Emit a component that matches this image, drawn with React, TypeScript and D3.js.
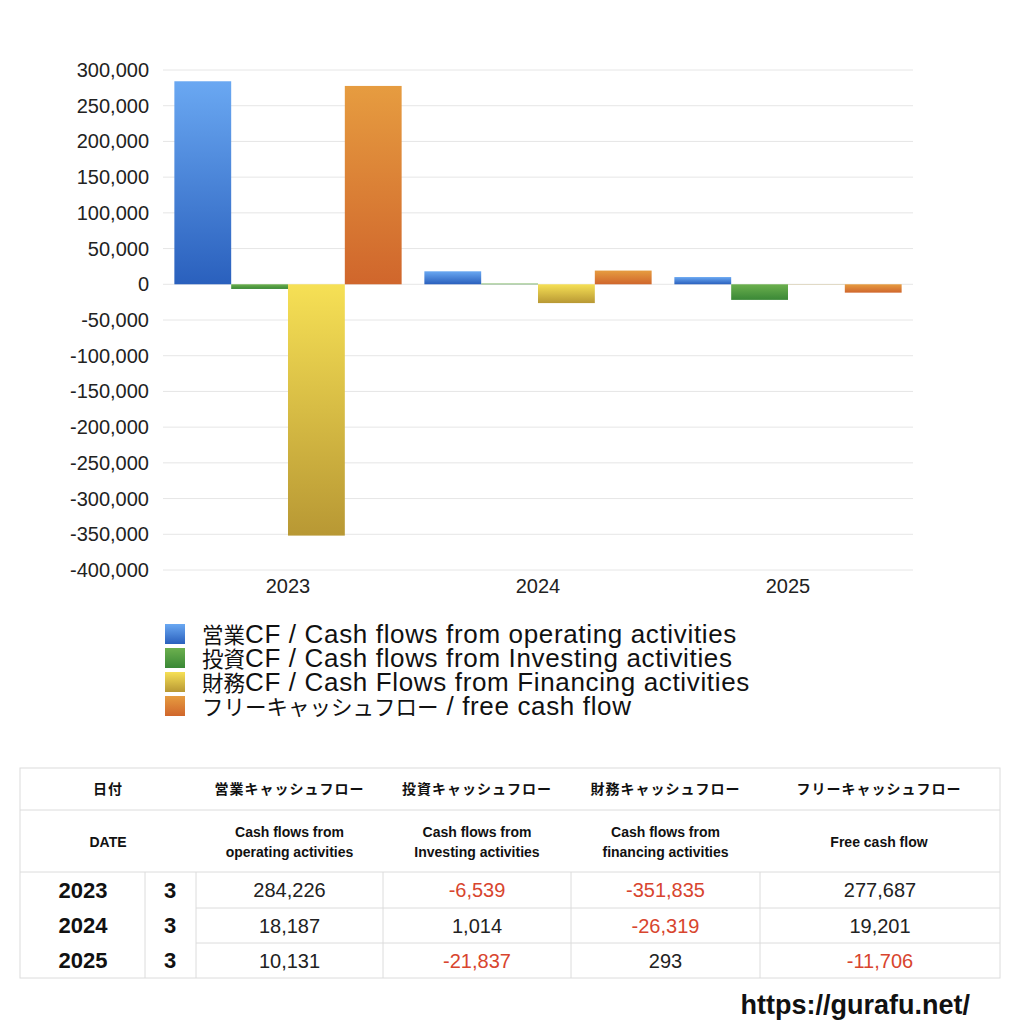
import React, { useEffect, useRef } from 'react';
import * as d3 from 'd3';

const years = ['2023', '2024', '2025'];
const months = ['3', '3', '3'];
const seriesKeys = ['operating', 'investing', 'financing', 'free'];
const operating = [284226, 18187, 10131];
const investing = [-6539, 1014, -21837];
const financing = [-351835, -26319, 293];
const freeCF = [277687, 19201, -11706];
const legendLabels = [
  '営業CF / Cash flows from operating activities',
  '投資CF / Cash flows from Investing activities',
  '財務CF / Cash Flows from Financing activities',
  'フリーキャッシュフロー / free cash flow',
];
const headerJa = ['日付', '営業キャッシュフロー', '投資キャッシュフロー', '財務キャッシュフロー', 'フリーキャッシュフロー'];
const headerEn = [['DATE'], ['Cash flows from', 'operating activities'], ['Cash flows from', 'Investing activities'], ['Cash flows from', 'financing activities'], ['Free cash flow']];
const yTicks = [300000, 250000, 200000, 150000, 100000, 50000, 0, -50000, -100000, -150000, -200000, -250000, -300000, -350000, -400000];

const gradients = [
  ['#6aa8f2', '#2a60bd'],
  ['#6cb04e', '#3a8836'],
  ['#f6e055', '#b89834'],
  ['#e69c40', '#d0662c'],
];

const App = () => {
  const ref = useRef<SVGSVGElement>(null);

  useEffect(() => {
    const svg = d3.select(ref.current);
    svg.selectAll('*').remove();

    const latin = '"Liberation Sans", Arial, "Noto Sans CJK JP", sans-serif';
    const jp = '"Noto Sans CJK JP", "Liberation Sans", sans-serif';

    const defs = svg.append('defs');
    gradients.forEach((g, i) => {
      const lg = defs.append('linearGradient').attr('id', `grad${i}`).attr('x1', 0).attr('y1', 0).attr('x2', 0).attr('y2', 1);
      lg.append('stop').attr('offset', '0%').attr('stop-color', g[0]);
      lg.append('stop').attr('offset', '100%').attr('stop-color', g[1]);
    });

    const x0 = d3.scaleBand().domain(years).range([163, 913]).paddingInner(0).paddingOuter(0);
    const x1 = d3.scaleBand().domain(seriesKeys).range([0, x0.bandwidth()]).paddingOuter(0.2).paddingInner(0);
    const y = d3.scaleLinear().domain([-400000, 300000]).range([570, 70]);

    // grid
    svg.append('g')
      .selectAll('line')
      .data(yTicks)
      .enter()
      .append('line')
      .attr('x1', 163)
      .attr('x2', 913)
      .attr('y1', (d) => y(d))
      .attr('y2', (d) => y(d))
      .attr('stroke', '#e6e6e6')
      .attr('stroke-width', 1);

    const fmt = (v: number) => d3.format(',')(v).replace('\u2212', '-');
    svg.append('g')
      .selectAll('text')
      .data(yTicks)
      .enter()
      .append('text')
      .attr('x', 149)
      .attr('y', (d) => y(d))
      .attr('dy', '0.35em')
      .attr('text-anchor', 'end')
      .attr('font-family', latin)
      .attr('font-size', 20)
      .attr('fill', '#222')
      .text((d) => fmt(d));

    svg.append('g')
      .selectAll('text')
      .data(years)
      .enter()
      .append('text')
      .attr('x', (d) => (x0(d) || 0) + x0.bandwidth() / 2)
      .attr('y', 593)
      .attr('text-anchor', 'middle')
      .attr('font-family', latin)
      .attr('font-size', 20)
      .attr('fill', '#222')
      .text((d) => d);

    const seriesData = [operating, investing, financing, freeCF];
    seriesData.forEach((vals, si) => {
      svg.append('g')
        .selectAll('rect')
        .data(vals)
        .enter()
        .append('rect')
        .attr('x', (d, i) => (x0(years[i]) || 0) + (x1(seriesKeys[si]) || 0))
        .attr('width', x1.bandwidth())
        .attr('y', (d) => y(Math.max(0, d)))
        .attr('height', (d) => Math.abs(y(d) - y(0)))
        .attr('fill', `url(#grad${si})`);
    });

    // legend: Japanese runs a bit smaller than the latin runs
    const legend = svg.append('g');
    const cjk = /([\u3000-\u30ff\u4e00-\u9fff\uff00-\uffef]+)/;
    legendLabels.forEach((label, i) => {
      const ly = 634 + i * 24;
      legend.append('rect')
        .attr('x', 165)
        .attr('y', ly - 10)
        .attr('width', 20)
        .attr('height', 20)
        .attr('fill', `url(#grad${i})`);
      const txt = legend.append('text')
        .attr('x', 202)
        .attr('y', ly + 9)
        .attr('font-family', latin)
        .attr('font-size', 26)
        .attr('fill', '#111');
      label.split(cjk).filter((s) => s.length > 0).forEach((part) => {
        const isJp = cjk.test(part);
        txt.append('tspan')
          .attr('font-family', isJp ? jp : latin)
          .attr('font-size', isJp ? 21.5 : 26)
          .attr('letter-spacing', isJp ? 0 : 0.65)
          .text(part);
      });
    });

    // table
    const t = svg.append('g');
    const colX = [20, 145, 196, 383, 571, 760, 1000];
    const rowY = [768, 810, 872, 908, 943, 978];
    const lineColor = '#dcdcdc';
    t.append('rect')
      .attr('x', 20).attr('y', 768).attr('width', 980).attr('height', 210)
      .attr('fill', 'none').attr('stroke', lineColor);
    [810, 872].forEach((yy) => {
      t.append('line').attr('x1', 20).attr('x2', 1000).attr('y1', yy).attr('y2', yy).attr('stroke', lineColor);
    });
    [908, 943].forEach((yy) => {
      t.append('line').attr('x1', 196).attr('x2', 1000).attr('y1', yy).attr('y2', yy).attr('stroke', lineColor);
    });
    colX.slice(1, 6).forEach((xx) => {
      t.append('line').attr('x1', xx).attr('x2', xx).attr('y1', 872).attr('y2', 978).attr('stroke', lineColor);
    });

    const headCenters = [108, (196 + 383) / 2, (383 + 571) / 2, (571 + 760) / 2, (760 + 1000) / 2 - 1];
    headerJa.forEach((h, i) => {
      t.append('text')
        .attr('x', headCenters[i]).attr('y', 789).attr('dy', '0.36em')
        .attr('text-anchor', 'middle').attr('font-family', jp).attr('font-weight', 'bold')
        .attr('font-size', 14).attr('letter-spacing', 1).attr('fill', '#111').text(h);
    });
    headerEn.forEach((lines, i) => {
      lines.forEach((ln, j) => {
        const yy = lines.length === 1 ? 842 : 832 + j * 20;
        t.append('text')
          .attr('x', headCenters[i]).attr('y', yy).attr('dy', '0.36em')
          .attr('text-anchor', 'middle').attr('font-family', latin).attr('font-weight', 'bold')
          .attr('font-size', 14).attr('fill', '#111').text(ln);
      });
    });

    const tableVals = years.map((yr, i) => [operating[i], investing[i], financing[i], freeCF[i]]);
    tableVals.forEach((row, ri) => {
      const cy = (rowY[ri + 2] + rowY[ri + 3]) / 2;
      t.append('text')
        .attr('x', 83).attr('y', cy).attr('dy', '0.36em').attr('text-anchor', 'middle')
        .attr('font-family', latin).attr('font-weight', 'bold').attr('font-size', 22).attr('fill', '#111')
        .text(years[ri]);
      t.append('text')
        .attr('x', 170).attr('y', cy).attr('dy', '0.36em').attr('text-anchor', 'middle')
        .attr('font-family', latin).attr('font-weight', 'bold').attr('font-size', 22).attr('fill', '#111')
        .text(months[ri]);
      row.forEach((v, ci) => {
        t.append('text')
          .attr('x', (colX[ci + 2] + colX[ci + 3]) / 2)
          .attr('y', cy).attr('dy', '0.36em').attr('text-anchor', 'middle')
          .attr('font-family', latin).attr('font-size', 20)
          .attr('fill', v < 0 ? '#d8452e' : '#222')
          .text(fmt(v));
      });
    });

    svg.append('text')
      .attr('x', 970).attr('y', 1004).attr('dy', '0.36em').attr('text-anchor', 'end')
      .attr('font-family', latin).attr('font-weight', 'bold').attr('font-size', 27).attr('fill', '#111')
      .text('https://gurafu.net/');
  });

  return (
    <svg
      ref={ref}
      width={1024}
      height={1024}
      style={{ position: 'absolute', left: 0, top: 0, background: '#fff' }}
    />
  );
};

export default App;
